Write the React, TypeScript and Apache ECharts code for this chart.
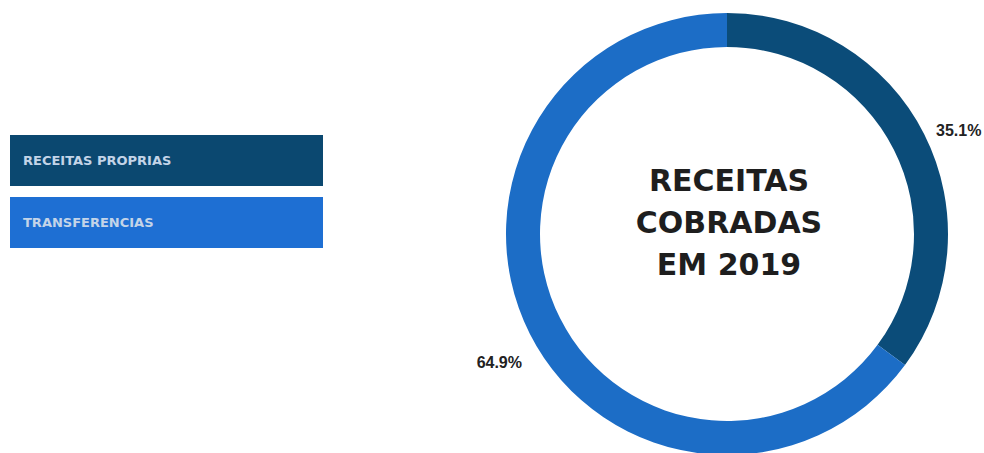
import React, { useEffect, useRef } from "react";
import * as echarts from "echarts";

const categories = ["RECEITAS PROPRIAS", "TRANSFERENCIAS"];
const values = [35.1, 64.9];
const colors = ["#0b4c79", "#1c6dc6"];
const legendColors = ["#0b4870", "#1e6fd3"];
const centerLines = ["RECEITAS", "COBRADAS", "EM 2019"];

export default function App() {
  const ref = useRef<HTMLDivElement>(null);
  useEffect(() => {
    document.body.style.margin = "0";
    const chart = echarts.init(ref.current!, null, { renderer: "svg" });
    const legendGraphics: any[] = [];
    categories.forEach((c, i) => {
      legendGraphics.push({
        type: "rect",
        shape: { x: 10, y: 135 + i * 62, width: 313, height: 51 },
        style: { fill: legendColors[i] },
      });
      legendGraphics.push({
        type: "text",
        x: 23,
        y: 160.5 + i * 62,
        style: {
          text: c,
          fill: "#c3d4e8",
          font: "bold 13px 'DejaVu Sans'",
          textAlign: "left",
          textVerticalAlign: "middle",
        },
      });
    });
    const labelPos = [
      { x: 936, y: 130, align: "left" },
      { x: 522, y: 362, align: "right" },
    ];
    chart.setOption({
      animation: false,
      backgroundColor: "#ffffff",
      graphic: [
        ...legendGraphics,
        {
          type: "text",
          x: 729,
          y: 222,
          style: {
            text: centerLines.join("\n"),
            fill: "#1e1e1e",
            font: "bold 30px 'DejaVu Sans'",
            lineHeight: 42,
            textAlign: "center",
            textVerticalAlign: "middle",
          },
        },
      ],
      series: [
        {
          type: "pie",
          center: [727, 234],
          radius: [187, 221],
          startAngle: 90,
          clockwise: true,
          silent: true,
          data: categories.map((c, i) => ({
            name: c,
            value: values[i],
            itemStyle: { color: colors[i] },
          })),
          label: {
            show: true,
            position: "inside",
            formatter: (p: any) => `${p.value}%`,
            color: "#222222",
            fontFamily: "'Liberation Sans'",
            fontWeight: "bold",
            fontSize: 16,
          },
          labelLine: { show: false },
          labelLayout: (p: any) => {
            const lp = labelPos[p.dataIndex];
            return { x: lp.x, y: lp.y, align: lp.align, verticalAlign: "middle" };
          },
        },
      ],
    });
    return () => chart.dispose();
  }, []);
  return <div ref={ref} style={{ width: 984, height: 453 }} />;
}
